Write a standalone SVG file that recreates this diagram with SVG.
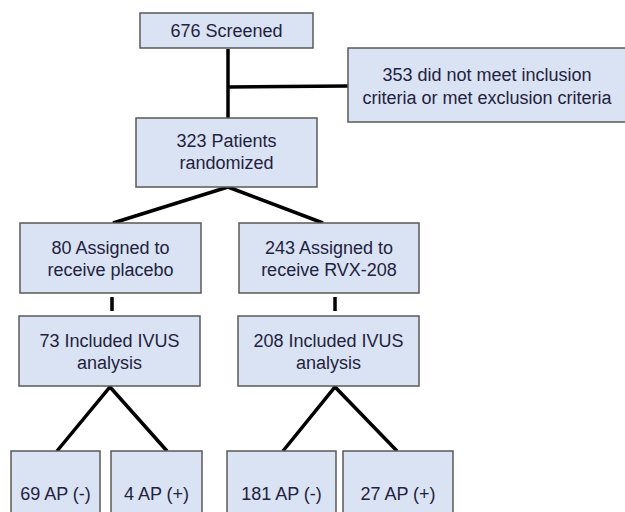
<svg xmlns="http://www.w3.org/2000/svg" width="625" height="512" viewBox="0 0 625 512">
<style>
.box{fill:#dae3f3;stroke:#595959;stroke-width:1.5}
.t{font-family:"Liberation Sans",Arial,sans-serif;font-size:18px;fill:#1f2240;text-anchor:middle}
.c{stroke:#000;stroke-width:3.5;fill:none}
</style>
<rect width="625" height="512" fill="#fff"/>
<g id="connectors">
<line class="c" x1="228" y1="49" x2="228" y2="118"/>
<line class="c" x1="228" y1="87" x2="348" y2="86"/>
<line class="c" x1="228" y1="187" x2="113" y2="223"/>
<line class="c" x1="228" y1="187" x2="323" y2="223"/>
<line class="c" x1="112" y1="297" x2="112" y2="311"/>
<line class="c" x1="335" y1="297" x2="335" y2="311"/>
<polyline class="c" points="57,451 110,387 167,451"/>
<polyline class="c" points="283,451 335,387 397,451"/>
</g>
<g id="screened"><rect class="box" x="140" y="13" width="173" height="35"/><text class="t" x="226.5" y="37">676 Screened</text></g>
<g id="excluded"><rect class="box" x="348" y="48" width="280" height="74"/><text class="t" x="487" y="81">353 did not meet inclusion</text><text class="t" x="487" y="104">criteria or met exclusion criteria</text></g>
<g id="randomized"><rect class="box" x="136" y="118" width="181" height="69"/><text class="t" x="226.5" y="147">323 Patients</text><text class="t" x="226.5" y="169">randomized</text></g>
<g id="placebo"><rect class="box" x="20" y="223" width="181" height="70"/><text class="t" x="110.5" y="254">80 Assigned to</text><text class="t" x="110.5" y="276">receive placebo</text></g>
<g id="rvx"><rect class="box" x="239" y="223" width="180" height="70"/><text class="t" x="329" y="254">243 Assigned to</text><text class="t" x="329" y="276">receive RVX-208</text></g>
<g id="ivus73"><rect class="box" x="19" y="316" width="181" height="70"/><text class="t" x="109.5" y="347">73 Included IVUS</text><text class="t" x="109.5" y="369">analysis</text></g>
<g id="ivus208"><rect class="box" x="238" y="316" width="181" height="70"/><text class="t" x="328.5" y="347">208 Included IVUS</text><text class="t" x="328.5" y="369">analysis</text></g>
<g id="ap69"><rect class="box" x="11" y="451" width="89" height="70"/><text class="t" x="55.5" y="500">69 AP (-)</text></g>
<g id="ap4"><rect class="box" x="111" y="451" width="91" height="70"/><text class="t" x="156.5" y="500">4 AP (+)</text></g>
<g id="ap181"><rect class="box" x="227" y="451" width="109" height="70"/><text class="t" x="281.5" y="500">181 AP (-)</text></g>
<g id="ap27"><rect class="box" x="343" y="451" width="110" height="70"/><text class="t" x="398" y="500">27 AP (+)</text></g>
</svg>
